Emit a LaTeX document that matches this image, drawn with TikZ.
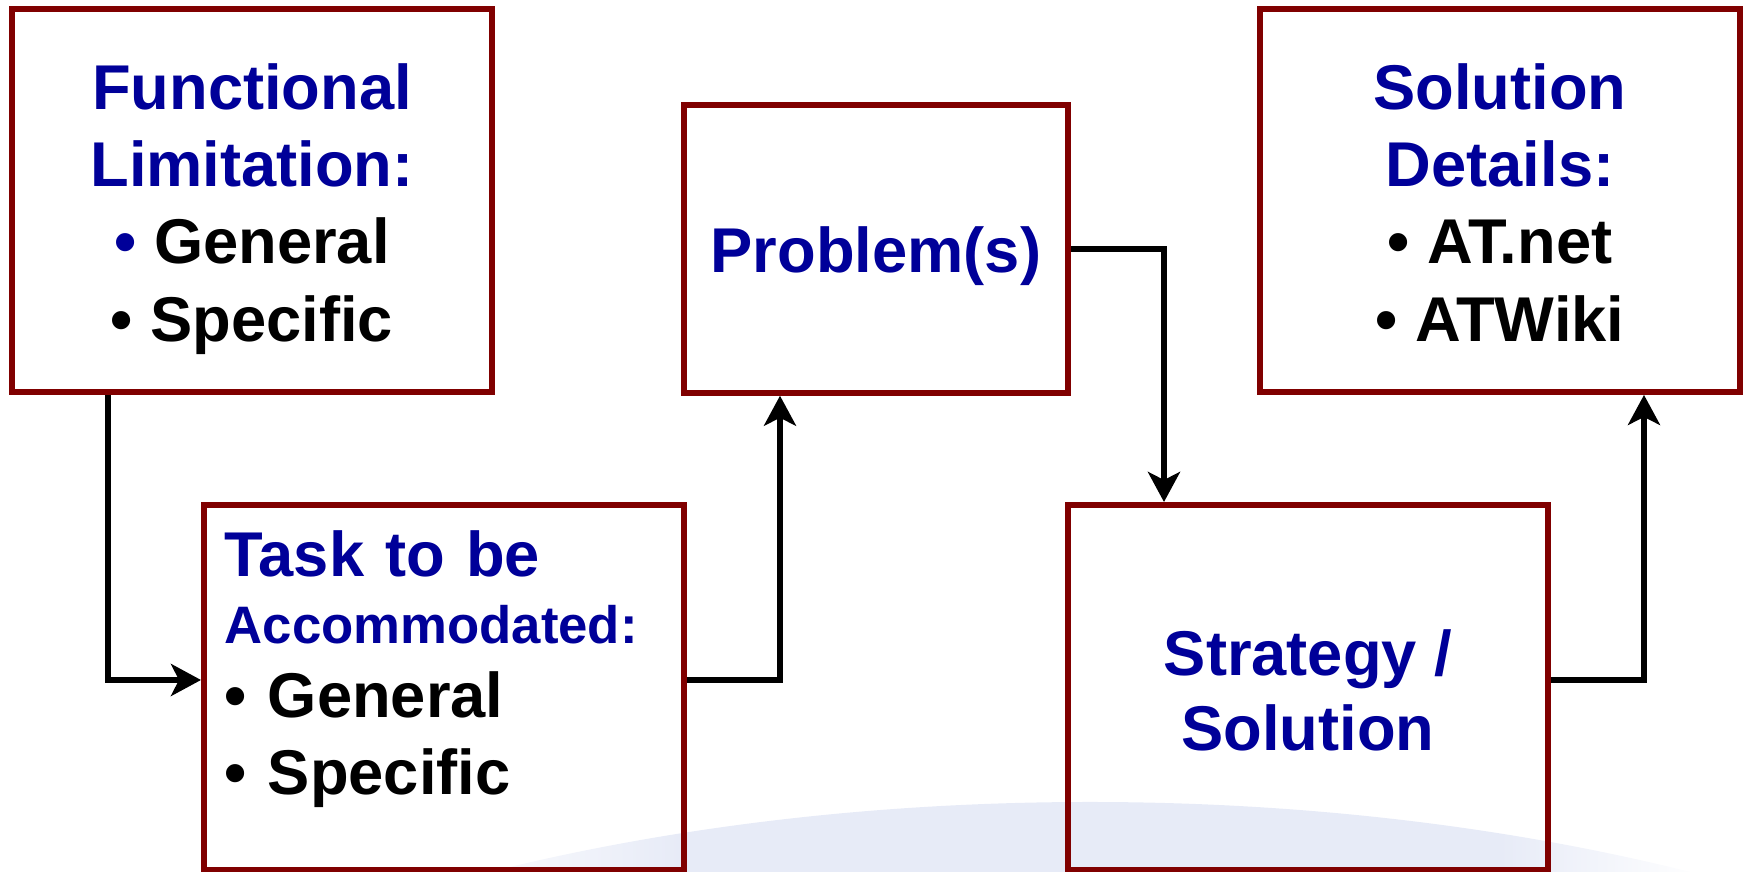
\documentclass[tikz,border=0pt]{standalone}
\usepackage{fontspec}
\setmainfont{Liberation Sans}
\usetikzlibrary{arrows.meta}

\definecolor{boxred}{RGB}{128,0,0}
\definecolor{titleblue}{RGB}{0,0,153}
\definecolor{bgblue}{RGB}{231,235,247}
\pgfdeclarehorizontalshading{bgfade}{100bp}{color(0bp)=(white); color(37bp)=(white); color(42bp)=(bgblue); color(58bp)=(bgblue); color(62bp)=(white); color(100bp)=(white)}

\tikzset{box/.style={draw=boxred,line width=0.06cm,inner sep=0cm},
wide box/.style={box,minimum width=4.8cm},
boxtext/.style={font=\bfseries\fontsize{18pt}{22pt}\selectfont,text=titleblue,align=center,inner sep=0cm},
flow/.style={line width=0.055cm,-{Stealth[length=0.3cm,width=0.32cm,inset=0.08cm]}}}

\begin{document}
\begin{tikzpicture}
\useasboundingbox (0,0) rectangle (17.48,8.72);

%% background swoosh
\begin{scope}
\clip (0,0) rectangle (17.48,8.72);
\shade [shading=bgfade] (10.9,-5.30) ellipse [x radius=12.8cm,y radius=6cm];
\end{scope}

%% boxes
\node [wide box,minimum height=3.825cm] (limit) at (2.52,6.713) {};
\node [box,minimum width=3.84cm,minimum height=2.875cm] (problem) at (8.76,6.23) {};
\node [wide box,minimum height=3.825cm] (details) at (15.00,6.713) {};
\node [wide box,minimum height=3.65cm] (task) at (4.44,1.845) {};
\node [wide box,minimum height=3.65cm] (strategy) at (13.08,1.845) {};

%% connectors
\draw [flow] ([xshift=-1.44cm]limit.south) |- ([yshift=0.075cm]task.west);
\draw [flow] ([yshift=0.075cm]task.east) -| ([xshift=-0.96cm]problem.south);
\draw [flow] (problem.east) -| ([xshift=-1.44cm]strategy.north);
\draw [flow] ([yshift=0.075cm]strategy.east) -| ([xshift=1.44cm]details.south);

%% box labels
\node [boxtext] (limit-text) at ([yshift=-0.082cm]limit.center) {Functional\\Limitation:\\• {\color{black}General}\\{\color{black}• Specific}};
\node [boxtext,anchor=base] (problem-text) at ([yshift=-0.237cm]problem.center) {Problem(s)};
\node [boxtext] (details-text) at ([yshift=-0.017cm]details.center) {Solution\\Details:\\{\color{black}• AT.net}\\{\color{black}• ATWiki}};
\node [boxtext,font=\bfseries\fontsize{18pt}{21.5pt}\selectfont] (strategy-text) at ([yshift=-0.03cm]strategy.center) {Strategy /\\Solution};
\node [boxtext,align=left,text width=4.4cm,anchor=north west] (task-text) at ([shift={(0.23cm,-0.284cm)}]task.north west) {Task to be\\[-3.1pt]{\fontsize{15pt}{18pt}\selectfont Accommodated:}\\[-0.95pt]{\color{black}• General}\\{\color{black}• Specific}};

\end{tikzpicture}
\end{document}
